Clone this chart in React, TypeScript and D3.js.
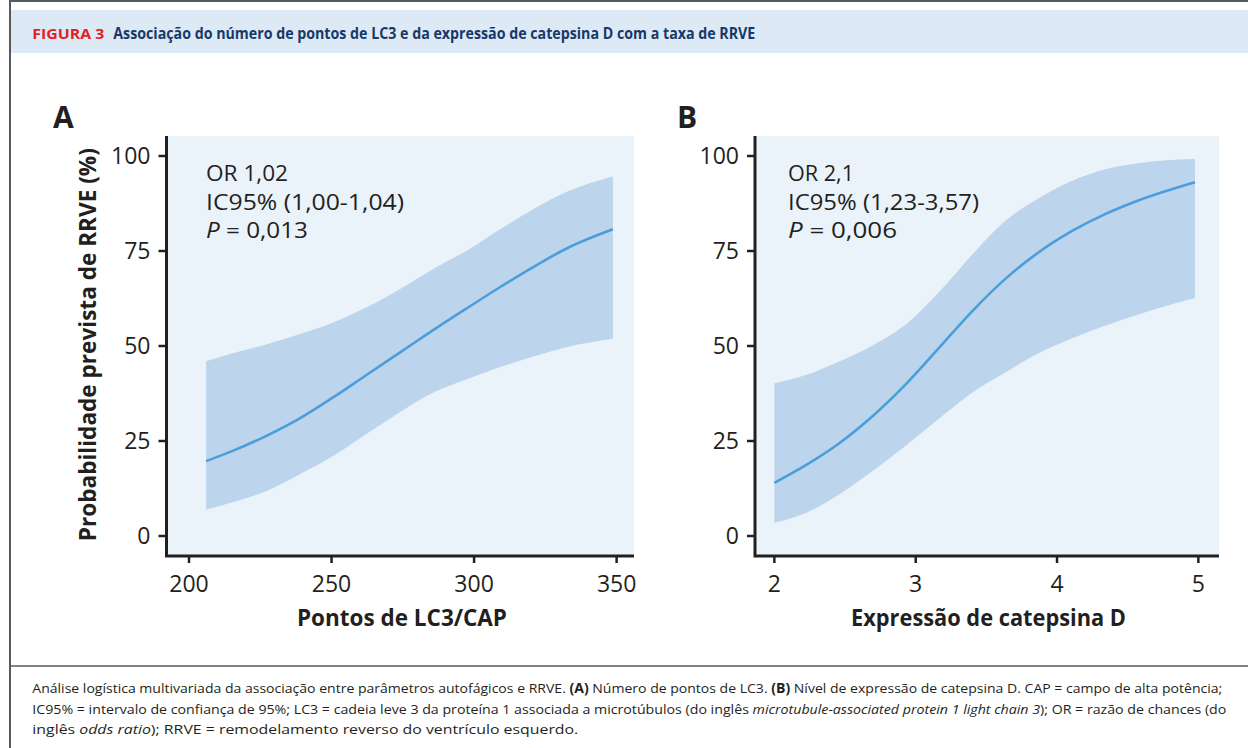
import React from "react";
import * as d3 from "d3";

// ---- Data ----
const xTicksA = [200, 250, 300, 350];
const xTicksB = [2, 3, 4, 5];
const yTicks = [0, 25, 50, 75, 100];

// Panel A: LC3 points vs predicted probability (%)
const xA = [206, 215.3, 227, 238.7, 250.4, 262.1, 273.8, 285.5, 297.2, 308.9, 320.6, 332.3, 348.7];
const fitA = [19.7, 22.4, 26.3, 30.9, 36.4, 42.3, 48.2, 54.1, 59.8, 65.4, 70.7, 75.6, 80.7];
const lowA = [7.0, 8.9, 11.8, 16.2, 21.0, 26.8, 32.5, 37.7, 41.2, 44.4, 47.2, 49.7, 51.9];
const upA = [46.0, 48.1, 50.4, 53.1, 56.1, 60.1, 64.9, 70.2, 75.0, 80.6, 85.9, 90.5, 94.7];

// Panel B: cathepsin D expression vs predicted probability (%)
const xB = [2.0, 2.217, 2.452, 2.688, 2.924, 3.16, 3.396, 3.632, 3.868, 4.104, 4.34, 4.575, 4.976];
const fitB = [14.0, 18.5, 24.2, 31.3, 39.7, 49.3, 59.0, 67.6, 74.6, 80.2, 84.7, 88.3, 93.1];
const lowB = [3.5, 6.0, 10.8, 16.9, 23.6, 30.7, 37.6, 43.0, 48.1, 52.0, 55.3, 58.3, 62.6];
const upB = [40.2, 42.3, 45.8, 50.0, 55.5, 64.0, 73.9, 82.9, 88.8, 93.4, 96.5, 98.1, 99.2];

const annotA = ["OR 1,02", "IC95% (1,00-1,04)", "0,013"];
const annotB = ["OR 2,1", "IC95% (1,23-3,57)", "0,006"];

const TXT = "#231f20";
const SANS = "'Open Sans', 'Noto Sans', sans-serif";

type PanelProps = {
  letter: string;
  letterX: number;
  left: number;
  right: number;
  xDomain: [number, number];
  xTicks: number[];
  xs: number[];
  fit: number[];
  low: number[];
  up: number[];
  annot: string[];
  annotX: number;
  annotLens: number[];
  xTitle: string;
  xTitleCx: number;
  xTitleLen: number;
};

const TOP = 136;
const BOTTOM = 556;

function Panel(p: PanelProps) {
  const x = d3.scaleLinear().domain(p.xDomain).range([p.left, p.right]);
  const y = d3.scaleLinear().domain([0, 100]).range([536, 156]);
  const rows = p.xs.map((v, i) => ({ x: v, f: p.fit[i], l: p.low[i], u: p.up[i] }));
  const area = d3
    .area<any>()
    .x((d) => x(d.x))
    .y0((d) => y(d.l))
    .y1((d) => y(d.u))
    .curve(d3.curveMonotoneX);
  const line = d3
    .line<any>()
    .x((d) => x(d.x))
    .y((d) => y(d.f))
    .curve(d3.curveMonotoneX);
  return (
    <g>
      <text x={p.letterX} y={128} fontFamily={SANS} fontWeight={700} fontSize={30} fill={TXT}>
        {p.letter}
      </text>
      <rect x={p.left} y={TOP} width={p.right - p.left} height={BOTTOM - TOP} fill="#eaf2fa" />
      <path d={area(rows) || ""} fill="#bcd4ec" />
      <path d={line(rows) || ""} fill="none" stroke="#4a9edb" strokeWidth={2.6} />
      {/* annotation */}
      <g fontFamily={SANS} fontSize={22} fill={TXT}>
        <text x={p.annotX} y={181} textLength={p.annotLens[0]} lengthAdjust="spacingAndGlyphs">
          {p.annot[0]}
        </text>
        <text x={p.annotX} y={209.5} textLength={p.annotLens[1]} lengthAdjust="spacingAndGlyphs">
          {p.annot[1]}
        </text>
        <text x={p.annotX} y={238} textLength={p.annotLens[2]} lengthAdjust="spacingAndGlyphs">
          <tspan fontStyle="italic">P</tspan> = {p.annot[2]}
        </text>
      </g>
      {/* y ticks */}
      {yTicks.map((t) => (
        <g key={"y" + t}>
          <line x1={p.left - 8} x2={p.left} y1={y(t)} y2={y(t)} stroke={TXT} strokeWidth={2.5} />
          <text
            x={p.left - 16}
            y={y(t)}
            dy="0.36em"
            textAnchor="end"
            fontFamily={SANS}
            fontSize={23}
            fill={TXT}
          >
            {t}
          </text>
        </g>
      ))}
      {/* x ticks */}
      {p.xTicks.map((t) => (
        <g key={"x" + t}>
          <line x1={x(t)} x2={x(t)} y1={BOTTOM} y2={BOTTOM + 7} stroke={TXT} strokeWidth={2.5} />
          <text x={x(t)} y={592} textAnchor="middle" fontFamily={SANS} fontSize={23} fill={TXT}>
            {t}
          </text>
        </g>
      ))}
      <path
        d={`M${p.left},${TOP} V${BOTTOM} H${p.right}`}
        fill="none"
        stroke={TXT}
        strokeWidth={3}
      />
      <text
        x={p.xTitleCx}
        y={626}
        textAnchor="middle"
        fontFamily={SANS}
        fontWeight={700}
        fontSize={23}
        fill={TXT}
        textLength={p.xTitleLen}
        lengthAdjust="spacingAndGlyphs"
      >
        {p.xTitle}
      </text>
    </g>
  );
}

export default function App() {
  return (
    <svg
      width={1248}
      height={748}
      style={{ position: "absolute", left: 0, top: 0, background: "#fff" }}
    >
      {/* header band */}
      <rect x={10.5} y={10} width={1237.5} height={43} fill="#dde9f5" />
      <path d="M10,748 V1 H1248" fill="none" stroke="#58595b" strokeWidth={2} />
      <line x1={10} x2={1248} y1={666} y2={666} stroke="#58595b" strokeWidth={1.5} />
      <text
        x={32.3}
        y={39}
        fontFamily={SANS}
        fontWeight={700}
        fontSize={14}
        fill="#e31e24"
        textLength={72}
        lengthAdjust="spacingAndGlyphs"
      >
        FIGURA 3
      </text>
      <text
        x={113.3}
        y={39}
        fontFamily={SANS}
        fontWeight={700}
        fontSize={15.5}
        fill="#17396a"
        textLength={642}
        lengthAdjust="spacingAndGlyphs"
      >
        Associação do número de pontos de LC3 e da expressão de catepsina D com a taxa de RRVE
      </text>

      {/* shared y title */}
      <text
        transform="translate(95.5,344.7) rotate(-90)"
        textAnchor="middle"
        fontFamily={SANS}
        fontWeight={700}
        fontSize={23}
        fill={TXT}
        textLength={393}
        lengthAdjust="spacingAndGlyphs"
      >
        Probabilidade prevista de RRVE (%)
      </text>

      <Panel
        letter="A"
        letterX={53}
        left={166.5}
        right={634}
        xDomain={[192.1, 356.1]}
        xTicks={xTicksA}
        xs={xA}
        fit={fitA}
        low={lowA}
        up={upA}
        annot={annotA}
        annotX={206}
        annotLens={[82, 198, 102]}
        xTitle="Pontos de LC3/CAP"
        xTitleCx={402}
        xTitleLen={210}
      />
      <Panel
        letter="B"
        letterX={677}
        left={755}
        right={1219}
        xDomain={[1.863, 5.146]}
        xTicks={xTicksB}
        xs={xB}
        fit={fitB}
        low={lowB}
        up={upB}
        annot={annotB}
        annotX={788}
        annotLens={[66, 191, 109]}
        xTitle="Expressão de catepsina D"
        xTitleCx={988.5}
        xTitleLen={275}
      />

      {/* caption */}
      <g fontFamily={SANS} fontSize={13.5} fill={TXT}>
        <text x={32.3} y={693} textLength={1190} lengthAdjust="spacingAndGlyphs">
          Análise logística multivariada da associação entre parâmetros autofágicos e RRVE.{" "}
          <tspan fontWeight={700}>(A)</tspan> Número de pontos de LC3.{" "}
          <tspan fontWeight={700}>(B)</tspan> Nível de expressão de catepsina D. CAP = campo de alta
          potência;
        </text>
        <text x={32.3} y={713.5} textLength={1194} lengthAdjust="spacingAndGlyphs">
          IC95% = intervalo de confiança de 95%; LC3 = cadeia leve 3 da proteína 1 associada a
          microtúbulos (do inglês{" "}
          <tspan fontStyle="italic">microtubule-associated protein 1 light chain 3</tspan>); OR =
          razão de chances (do
        </text>
        <text x={32.3} y={733.5} textLength={546} lengthAdjust="spacingAndGlyphs">
          inglês <tspan fontStyle="italic">odds ratio</tspan>); RRVE = remodelamento reverso do
          ventrículo esquerdo.
        </text>
      </g>
    </svg>
  );
}
